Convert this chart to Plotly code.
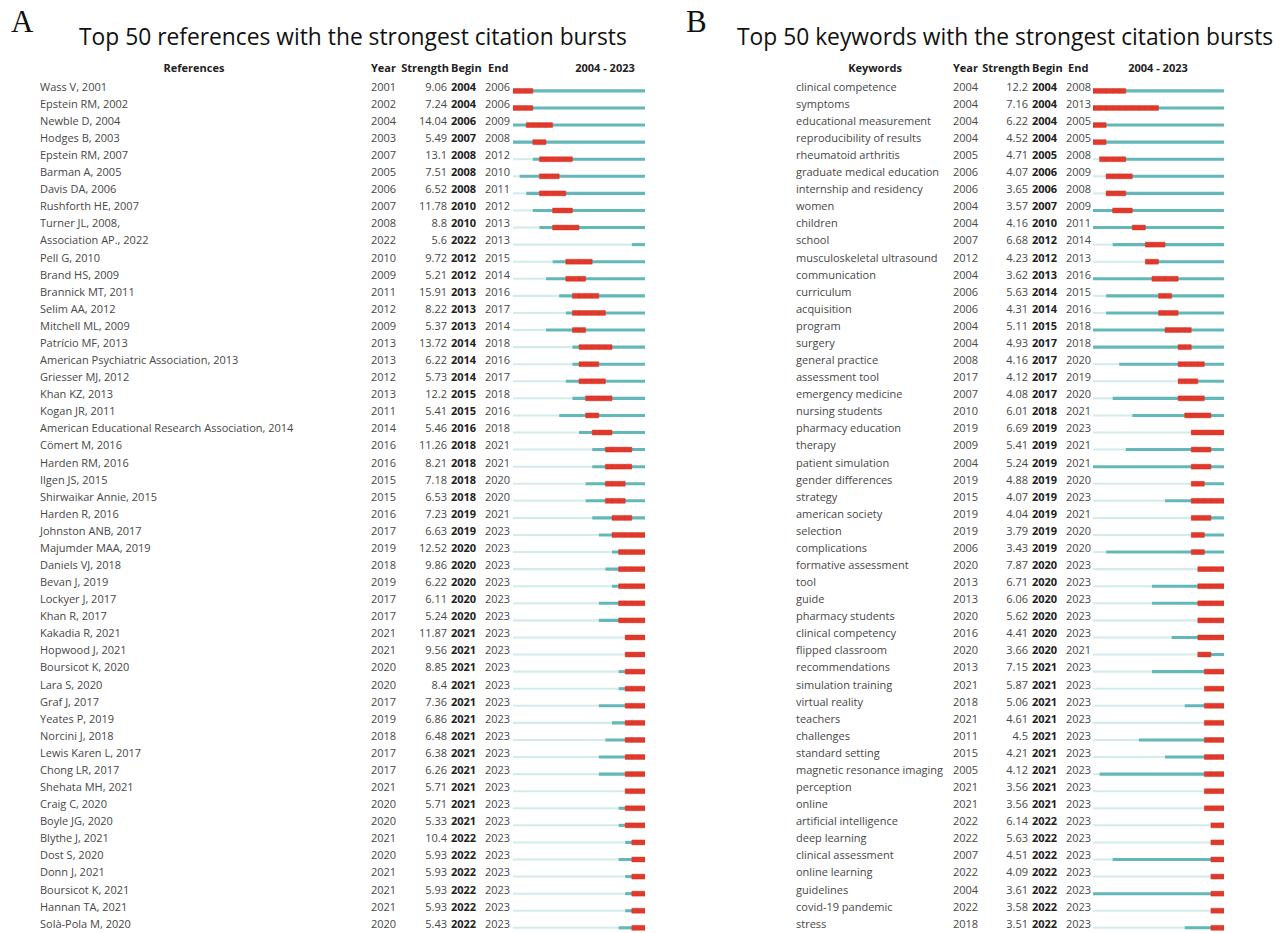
import plotly.graph_objects as go

# ---------------- data: references ----------------
ref_labels = [
    "Wass V, 2001", "Epstein RM, 2002", "Newble D, 2004", "Hodges B, 2003", "Epstein RM, 2007",
    "Barman A, 2005", "Davis DA, 2006", "Rushforth HE, 2007", "Turner JL, 2008,", "Association AP., 2022",
    "Pell G, 2010", "Brand HS, 2009", "Brannick MT, 2011", "Selim AA, 2012", "Mitchell ML, 2009",
    "Patrício MF, 2013", "American Psychiatric Association, 2013", "Griesser MJ, 2012", "Khan KZ, 2013", "Kogan JR, 2011",
    "American Educational Research Association, 2014", "Cömert M, 2016", "Harden RM, 2016", "Ilgen JS, 2015", "Shirwaikar Annie, 2015",
    "Harden R, 2016", "Johnston ANB, 2017", "Majumder MAA, 2019", "Daniels VJ, 2018", "Bevan J, 2019",
    "Lockyer J, 2017", "Khan R, 2017", "Kakadia R, 2021", "Hopwood J, 2021", "Boursicot K, 2020",
    "Lara S, 2020", "Graf J, 2017", "Yeates P, 2019", "Norcini J, 2018", "Lewis Karen L, 2017",
    "Chong LR, 2017", "Shehata MH, 2021", "Craig C, 2020", "Boyle JG, 2020", "Blythe J, 2021",
    "Dost S, 2020", "Donn J, 2021", "Boursicot K, 2021", "Hannan TA, 2021", "Solà-Pola M, 2020",
]
ref_year = [
    2001, 2002, 2004, 2003, 2007, 2005, 2006, 2007, 2008, 2022,
    2010, 2009, 2011, 2012, 2009, 2013, 2013, 2012, 2013, 2011,
    2014, 2016, 2016, 2015, 2015, 2016, 2017, 2019, 2018, 2019,
    2017, 2017, 2021, 2021, 2020, 2020, 2017, 2019, 2018, 2017,
    2017, 2021, 2020, 2020, 2021, 2020, 2021, 2021, 2021, 2020,
]
ref_strength = [
    "9.06", "7.24", "14.04", "5.49", "13.1", "7.51", "6.52", "11.78", "8.8", "5.6",
    "9.72", "5.21", "15.91", "8.22", "5.37", "13.72", "6.22", "5.73", "12.2", "5.41",
    "5.46", "11.26", "8.21", "7.18", "6.53", "7.23", "6.63", "12.52", "9.86", "6.22",
    "6.11", "5.24", "11.87", "9.56", "8.85", "8.4", "7.36", "6.86", "6.48", "6.38",
    "6.26", "5.71", "5.71", "5.33", "10.4", "5.93", "5.93", "5.93", "5.93", "5.43",
]
ref_begin = [
    2004, 2004, 2006, 2007, 2008, 2008, 2008, 2010, 2010, 2022,
    2012, 2012, 2013, 2013, 2013, 2014, 2014, 2014, 2015, 2015,
    2016, 2018, 2018, 2018, 2018, 2019, 2019, 2020, 2020, 2020,
    2020, 2020, 2021, 2021, 2021, 2021, 2021, 2021, 2021, 2021,
    2021, 2021, 2021, 2021, 2022, 2022, 2022, 2022, 2022, 2022,
]
ref_end = [
    2006, 2006, 2009, 2008, 2012, 2010, 2011, 2012, 2013, 2013,
    2015, 2014, 2016, 2017, 2014, 2018, 2016, 2017, 2018, 2016,
    2018, 2021, 2021, 2020, 2020, 2021, 2023, 2023, 2023, 2023,
    2023, 2023, 2023, 2023, 2023, 2023, 2023, 2023, 2023, 2023,
    2023, 2023, 2023, 2023, 2023, 2023, 2023, 2023, 2023, 2023,
]

# ---------------- data: keywords ----------------
kw_labels = [
    "clinical competence", "symptoms", "educational measurement", "reproducibility of results", "rheumatoid arthritis",
    "graduate medical education", "internship and residency", "women", "children", "school",
    "musculoskeletal ultrasound", "communication", "curriculum", "acquisition", "program",
    "surgery", "general practice", "assessment tool", "emergency medicine", "nursing students",
    "pharmacy education", "therapy", "patient simulation", "gender differences", "strategy",
    "american society", "selection", "complications", "formative assessment", "tool",
    "guide", "pharmacy students", "clinical competency", "flipped classroom", "recommendations",
    "simulation training", "virtual reality", "teachers", "challenges", "standard setting",
    "magnetic resonance imaging", "perception", "online", "artificial intelligence", "deep learning",
    "clinical assessment", "online learning", "guidelines", "covid-19 pandemic", "stress",
]
kw_year = [
    2004, 2004, 2004, 2004, 2005, 2006, 2006, 2004, 2004, 2007,
    2012, 2004, 2006, 2006, 2004, 2004, 2008, 2017, 2007, 2010,
    2019, 2009, 2004, 2019, 2015, 2019, 2019, 2006, 2020, 2013,
    2013, 2020, 2016, 2020, 2013, 2021, 2018, 2021, 2011, 2015,
    2005, 2021, 2021, 2022, 2022, 2007, 2022, 2004, 2022, 2018,
]
kw_strength = [
    "12.2", "7.16", "6.22", "4.52", "4.71", "4.07", "3.65", "3.57", "4.16", "6.68",
    "4.23", "3.62", "5.63", "4.31", "5.11", "4.93", "4.16", "4.12", "4.08", "6.01",
    "6.69", "5.41", "5.24", "4.88", "4.07", "4.04", "3.79", "3.43", "7.87", "6.71",
    "6.06", "5.62", "4.41", "3.66", "7.15", "5.87", "5.06", "4.61", "4.5", "4.21",
    "4.12", "3.56", "3.56", "6.14", "5.63", "4.51", "4.09", "3.61", "3.58", "3.51",
]
kw_begin = [
    2004, 2004, 2004, 2004, 2005, 2006, 2006, 2007, 2010, 2012,
    2012, 2013, 2014, 2014, 2015, 2017, 2017, 2017, 2017, 2018,
    2019, 2019, 2019, 2019, 2019, 2019, 2019, 2019, 2020, 2020,
    2020, 2020, 2020, 2020, 2021, 2021, 2021, 2021, 2021, 2021,
    2021, 2021, 2021, 2022, 2022, 2022, 2022, 2022, 2022, 2022,
]
kw_end = [
    2008, 2013, 2005, 2005, 2008, 2009, 2008, 2009, 2011, 2014,
    2013, 2016, 2015, 2016, 2018, 2018, 2020, 2019, 2020, 2021,
    2023, 2021, 2021, 2020, 2023, 2021, 2020, 2020, 2023, 2023,
    2023, 2023, 2023, 2021, 2023, 2023, 2023, 2023, 2023, 2023,
    2023, 2023, 2023, 2023, 2023, 2023, 2023, 2023, 2023, 2023,
]

FIRST, LAST = 2004, 2023
W, H = 1284, 933
ROW0, ROWH = 88.0, 17.08          # pixel centre of first row, row pitch

LIGHT = "#d4ebeb"
TEAL = "#62b7b8"
RED = "#e3382a"
TXT = "#474747"
FONT = "Open Sans"

fig = go.Figure()


def add_timeline(xa, years, begins, ends):
    off = 0.17
    lb, lx, ly, tb, tx, ty, rb, rx, ry = [], [], [], [], [], [], [], [], []
    for i, (yr, b, e) in enumerate(zip(years, begins, ends)):
        start = max(yr, FIRST)
        if start > FIRST:
            lb.append(FIRST); lx.append(start - FIRST); ly.append(i + off)
        tb.append(start); tx.append(LAST + 1 - start); ty.append(i + off)
        for c in range(b, e + 1):
            rb.append(c); rx.append(1); ry.append(i + off)
    common = dict(orientation="h", xaxis=xa, yaxis="y", hoverinfo="skip", showlegend=False)
    fig.add_bar(base=lb, x=lx, y=ly, width=0.12, marker=dict(color=LIGHT, line_width=0), **common)
    fig.add_bar(base=tb, x=tx, y=ty, width=0.18, marker=dict(color=TEAL, line_width=0), **common)
    fig.add_bar(base=rb, x=rx, y=ry, width=0.29,
                marker=dict(color=RED, line=dict(color="#cf2f24", width=0.4)), **common)


def add_text(xpix, rows, texts, pos, size=11, color=TXT):
    fig.add_trace(go.Scatter(
        x=[xpix] * len(texts), y=rows, text=texts, mode="text", textposition=pos,
        textfont=dict(family=FONT, size=size, color=color),
        xaxis="x3", yaxis="y", hoverinfo="skip", showlegend=False, cliponaxis=False))


def add_table(labels, years, strengths, begins, ends, cols, xa):
    n = len(labels)
    rows = list(range(n))
    lab_x, year_x, str_x, beg_x, end_x = cols
    add_timeline(xa, years, begins, ends)
    add_text(lab_x, rows, labels, "middle right")
    add_text(year_x, rows, [str(v) for v in years], "middle right")
    add_text(str_x, rows, strengths, "middle left")
    add_text(beg_x, rows, [f"<b>{v}</b>" for v in begins], "middle right", color="#222")
    add_text(end_x, rows, [str(v) for v in ends], "middle right")


add_table(ref_labels, ref_year, ref_strength, ref_begin, ref_end,
          (40, 371, 447, 451, 485), "x")
add_table(kw_labels, kw_year, kw_strength, kw_begin, kw_end,
          (796, 953, 1028, 1032, 1066), "x2")

# column headers
HY = -1.07
hdr = dict(size=11, color="#222")
add_text(194, [HY], ["<b>References</b>"], "middle center", **hdr)
add_text(371, [HY], ["<b>Year</b>"], "middle right", **hdr)
add_text(449, [HY], ["<b>Strength</b>"], "middle left", **hdr)
add_text(451, [HY], ["<b>Begin</b>"], "middle right", **hdr)
add_text(488, [HY], ["<b>End</b>"], "middle right", **hdr)
add_text(605, [HY], ["<b>2004 - 2023</b>"], "middle center", **hdr)

add_text(875, [HY], ["<b>Keywords</b>"], "middle center", **hdr)
add_text(953, [HY], ["<b>Year</b>"], "middle right", **hdr)
add_text(1030, [HY], ["<b>Strength</b>"], "middle left", **hdr)
add_text(1032, [HY], ["<b>Begin</b>"], "middle right", **hdr)
add_text(1068, [HY], ["<b>End</b>"], "middle right", **hdr)
add_text(1158, [HY], ["<b>2004 - 2023</b>"], "middle center", **hdr)

# panel titles and letters
annots = [
    dict(text="A", x=9, y=22, font=dict(family="Liberation Serif", size=31, color="#111"), xanchor="left"),
    dict(text="B", x=684, y=22, font=dict(family="Liberation Serif", size=31, color="#111"), xanchor="left"),
    dict(text="Top 50 references with the strongest citation bursts", x=353, y=36,
         font=dict(family=FONT, size=22.8, color="#111"), xanchor="center"),
    dict(text="Top 50 keywords with the strongest citation bursts", x=1005, y=36,
         font=dict(family=FONT, size=22.8, color="#111"), xanchor="center"),
]
for a in annots:
    fig.add_annotation(text=a["text"], x=a["x"] / W, y=1 - a["y"] / H, xref="paper", yref="paper",
                       xanchor=a["xanchor"], yanchor="middle", showarrow=False, font=a["font"])

bottom = (H - ROW0) / ROWH
top = -ROW0 / ROWH
hidden = dict(visible=False, showgrid=False, zeroline=False, fixedrange=True)
fig.update_layout(
    width=W, height=H, margin=dict(l=0, r=0, t=0, b=0),
    paper_bgcolor="white", plot_bgcolor="rgba(0,0,0,0)",
    barmode="overlay", showlegend=False,
    xaxis=dict(domain=[513 / W, 645 / W], range=[FIRST, LAST + 1], anchor="y", **hidden),
    xaxis2=dict(domain=[1093 / W, 1224 / W], range=[FIRST, LAST + 1], anchor="y", **hidden),
    xaxis3=dict(domain=[0, 1], range=[0, W], anchor="y", **hidden),
    yaxis=dict(domain=[0, 1], range=[bottom, top], **hidden),
)

fig.write_html("out.html")
